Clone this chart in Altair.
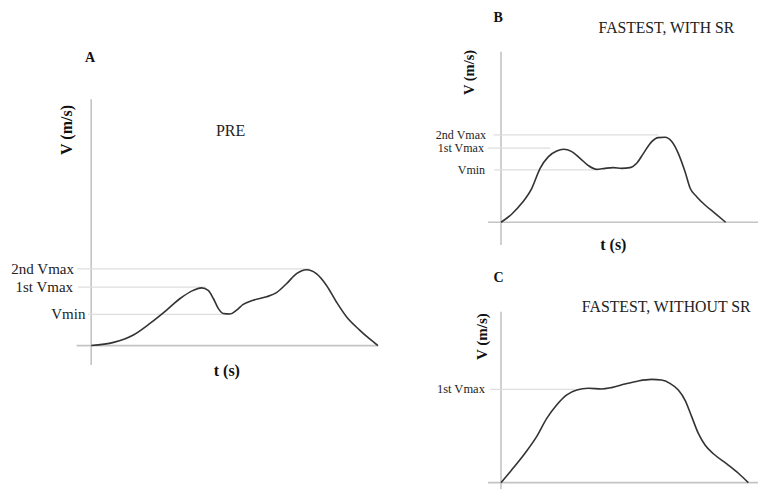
import altair as alt
import pandas as pd

SERIF = "Liberation Serif"
CURVE = "#333333"
AXIS = "#c4c4c4"
GRID = "#dedede"

# ---------------- Panel A (PRE) ----------------
a_t = [0, 7.8, 14.7, 20.5, 26.3, 31.0, 35.6, 38.5, 40.8, 42.6, 44.3, 46.1, 48.4, 50.7,
       53.0, 56.5, 61.1, 64.6, 68.1, 71.6, 75.1, 78.5, 82.0, 85.5, 89.0, 93.6, 97.1, 100]
a_v = [0, 1.3, 4.3, 9.0, 14.4, 19.1, 22.4, 23.4, 22.4, 19.1, 15.1, 13.0, 12.8, 14.4,
       16.7, 18.4, 19.8, 21.5, 25.1, 29.2, 30.8, 29.2, 24.5, 17.7, 11.7, 6.3, 2.7, 0]
a_ref_names = ["2nd Vmax", "1st Vmax", "Vmin"]
a_ref_v = [31.1, 23.7, 12.7]
a_ref_start = [-4.9, -4.6, -1.1]
a_ref_end = [76.3, 40.0, 48.4]
a_label_t = [-6.0, -6.3, -2.0]

# ---------------- Panel B (FASTEST, WITH SR) ----------------
b_t = [0, 4.7, 9.2, 13.7, 17.4, 21.1, 24.8, 27.8, 31.5, 35.2, 38.9, 42.6, 46.3, 50.0,
       53.7, 57.4, 60.4, 63.4, 67.1, 70.0, 73.0, 76.0, 78.9, 81.9, 84.2, 87.1, 90.8, 95.3, 100]
b_v = [0, 4.7, 11.1, 19.9, 31.6, 38.5, 41.8, 42.8, 41.4, 37.5, 33.2, 31.0, 31.6, 32.0,
       31.6, 32.0, 34.6, 40.4, 47.3, 49.6, 49.8, 47.3, 40.4, 29.7, 19.9, 15.0, 10.1, 5.2, 0]
b_ref_names = ["2nd Vmax", "1st Vmax", "Vmin"]
b_ref_v = [51.2, 43.4, 30.7]
b_ref_start = [-3.4, -5.8, -3.0]
b_ref_end = [70.0, 22.0, 41.8]
b_label_t = [-6.7, -7.6, -7.1]

# ---------------- Panel C (FASTEST, WITHOUT SR) ----------------
c_t = [0, 4.3, 9.7, 14.4, 18.5, 22.5, 26.6, 30.6, 35.3, 40.7, 44.7, 50.1, 55.5,
       60.9, 64.9, 68.3, 71.7, 74.4, 77.1, 79.8, 82.5, 86.5, 91.9, 96.0, 100]
c_v = [0, 7.4, 17.2, 26.9, 37.6, 45.4, 51.3, 54.2, 55.2, 54.8, 55.6, 57.7, 59.5,
       60.4, 60.0, 58.1, 54.2, 48.3, 38.6, 28.8, 22.0, 16.2, 10.3, 5.5, 0]
c_ref_names = ["1st Vmax"]
c_ref_v = [54.6]
c_ref_start = [-4.4]
c_ref_end = [29.9]
c_label_t = [-6.5]


def panel(width, height, xdom, ydom, ct, cv, names, rv, rs, re, lt, label_size,
          letter, letter_pos, heading, heading_pos, heading_size,
          vtitle_pos, vtitle_size, ttitle_pos, yaxis_bottom, xaxis_left, xaxis_right):
    xs = alt.Scale(domain=xdom, nice=False, zero=False)
    ys = alt.Scale(domain=ydom, nice=False, zero=False)

    def X(f):
        return alt.X(f, type="quantitative", scale=xs, axis=None)

    def Y(f):
        return alt.Y(f, type="quantitative", scale=ys, axis=None)

    axes_df = pd.DataFrame({
        "x1": [0, xaxis_left], "x2": [0, xaxis_right],
        "y1": [yaxis_bottom, 0], "y2": [100, 0],
    })
    axes = alt.Chart(axes_df).mark_rule(color=AXIS, strokeWidth=1.6).encode(
        x=X("x1"), x2="x2", y=Y("y1"), y2="y2")

    grid_df = pd.DataFrame({"name": names, "v": rv, "s": rs, "e": re, "lt": lt})
    grid = alt.Chart(grid_df).mark_rule(color=GRID, strokeWidth=1.2).encode(
        x=X("s"), x2="e", y=Y("v"))
    labels = alt.Chart(grid_df).mark_text(
        font=SERIF, fontSize=label_size, align="right", baseline="middle", color="#222"
    ).encode(x=X("lt"), y=Y("v"), text="name:N")

    curve_df = pd.DataFrame({"t": ct, "v": cv})
    curve = alt.Chart(curve_df).mark_line(
        color=CURVE, strokeWidth=1.6, interpolate="monotone").encode(x=X("t"), y=Y("v"))

    letter_df = pd.DataFrame({"t": [letter_pos[0]], "v": [letter_pos[1]], "s": [letter]})
    letter_mark = alt.Chart(letter_df).mark_text(
        font=SERIF, fontSize=14, fontWeight="bold", color="#111", baseline="middle"
    ).encode(x=X("t"), y=Y("v"), text="s:N")

    head_df = pd.DataFrame({"t": [heading_pos[0]], "v": [heading_pos[1]], "s": [heading]})
    head_mark = alt.Chart(head_df).mark_text(
        font=SERIF, fontSize=heading_size, color="#222", baseline="middle"
    ).encode(x=X("t"), y=Y("v"), text="s:N")

    vt_df = pd.DataFrame({"t": [vtitle_pos[0]], "v": [vtitle_pos[1]], "s": ["V (m/s)"]})
    vt_mark = alt.Chart(vt_df).mark_text(
        font=SERIF, fontSize=vtitle_size, fontWeight="bold", color="#111",
        angle=270, baseline="middle"
    ).encode(x=X("t"), y=Y("v"), text="s:N")

    layers = [axes, grid, curve, labels, letter_mark, head_mark, vt_mark]
    if ttitle_pos is not None:
        tt_df = pd.DataFrame({"t": [ttitle_pos[0]], "v": [ttitle_pos[1]], "s": ["t (s)"]})
        layers.append(alt.Chart(tt_df).mark_text(
            font=SERIF, fontSize=16, fontWeight="bold", color="#111", baseline="middle"
        ).encode(x=X("t"), y=Y("v"), text="s:N"))
    return alt.layer(*layers).properties(width=width, height=height)


A = panel(370, 377, [-29, 100], [-16, 137], a_t, a_v, a_ref_names, a_ref_v, a_ref_start,
          a_ref_end, a_label_t, 15, "A", (-0.4, 116.7), "PRE", (48.6, 86.9), 16,
          (-8.3, 87.5), 16, (47.3, -10.3), -7.9, -5.1, 100)

B = panel(270, 247, [-5.8, 114.4], [-19.2, 125.6], b_t, b_v, b_ref_names, b_ref_v,
          b_ref_start, b_ref_end, b_label_t, 12, "B", (-1.3, 119.8),
          "FASTEST, WITH SR", (73.6, 113.9), 15.7, (-13.6, 87.8), 14.5, (50.0, -13.3),
          -13.3, -5.8, 114.4)

C = panel(270, 224, [-5.26, 103.92], [-3.7, 127.3], c_t, c_v, c_ref_names, c_ref_v,
          c_ref_start, c_ref_end, c_label_t, 12.5, "C", (-1.0, 119.7),
          "FASTEST, WITHOUT SR", (66.8, 102.5), 15.8, (-7.8, 85.4), 15, None,
          -3.7, -5.26, 103.92)

right = alt.vconcat(B, C, spacing=10, bounds="flush")
chart = alt.hconcat(A, right, spacing=110, bounds="flush").properties(
    padding=0, background="white"
).configure_view(stroke="transparent", strokeWidth=0)

chart.save("out.html", embed_options={"renderer": "svg", "actions": False})
